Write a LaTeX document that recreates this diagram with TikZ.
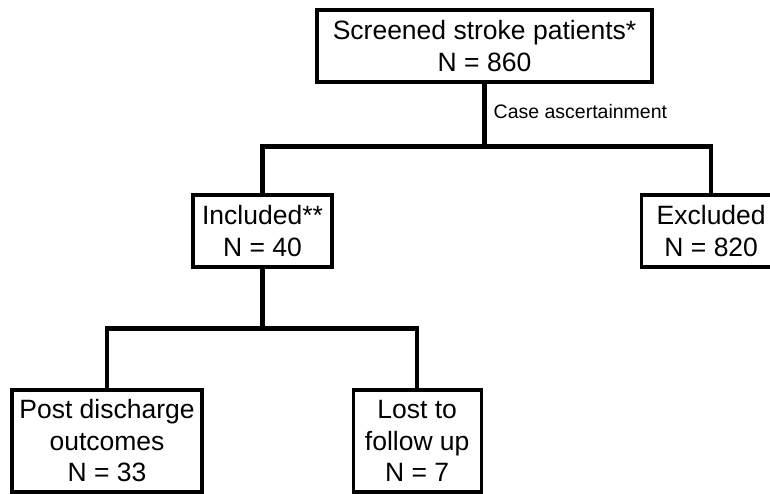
\documentclass[tikz,border=0pt]{standalone}
\usepackage{fontspec}
\setmainfont{Liberation Sans}
\usepackage{tikz}
\usetikzlibrary{positioning, calc}
\definecolor{colLine}{RGB}{0,0,0}

\begin{document}
\begin{tikzpicture}[
  x=1pt, y=-1pt,
  box/.style={draw=colLine, line width=3.2pt, inner sep=0pt, align=center,
              font=\fontsize{26.5}{31.5}\selectfont},
  link/.style={draw=colLine, line width=4.5pt},
  label/.style={font=\fontsize{19.5}{23}\selectfont, inner sep=0pt},
]
\useasboundingbox[fill=white] (0,0) rectangle (770,493);

% ─── SCREENING ────────────────────────────────────────────────────────────────
\node[box, minimum width=335pt, minimum height=72pt] (screened) at (484.5,46)
  {Screened stroke patients*\\N = 860};

% ─── CASE ASCERTAINMENT ───────────────────────────────────────────────────────
\node[box, minimum width=139pt, minimum height=72pt] (included) at (262.5,231)
  {Included**\\N = 40};
\node[box, minimum width=140pt, minimum height=72pt, right=306pt of included] (excluded)
  {Excluded\\N = 820};

\draw[link] (screened.south) -- ++(0,63) coordinate (split1);
\draw[link] (included.north) |- (split1) -| (excluded.north);
\node[label, anchor=base west] (ascert) at ($(split1)+(9,-28)$) {Case ascertainment};

% ─── FOLLOW UP ────────────────────────────────────────────────────────────────
\node[box, minimum width=190pt, minimum height=102pt] (post) at (107,441)
  {Post discharge\\outcomes\\N = 33};
\node[box, minimum width=128pt, minimum height=102pt, right=148pt of post] (lost)
  {Lost to\\follow up\\N = 7};

\draw[link] (included.south) -- ++(0,60) coordinate (split2);
\draw[link] (post.north) |- (split2) -| (lost.north);

\end{tikzpicture}
\end{document}
